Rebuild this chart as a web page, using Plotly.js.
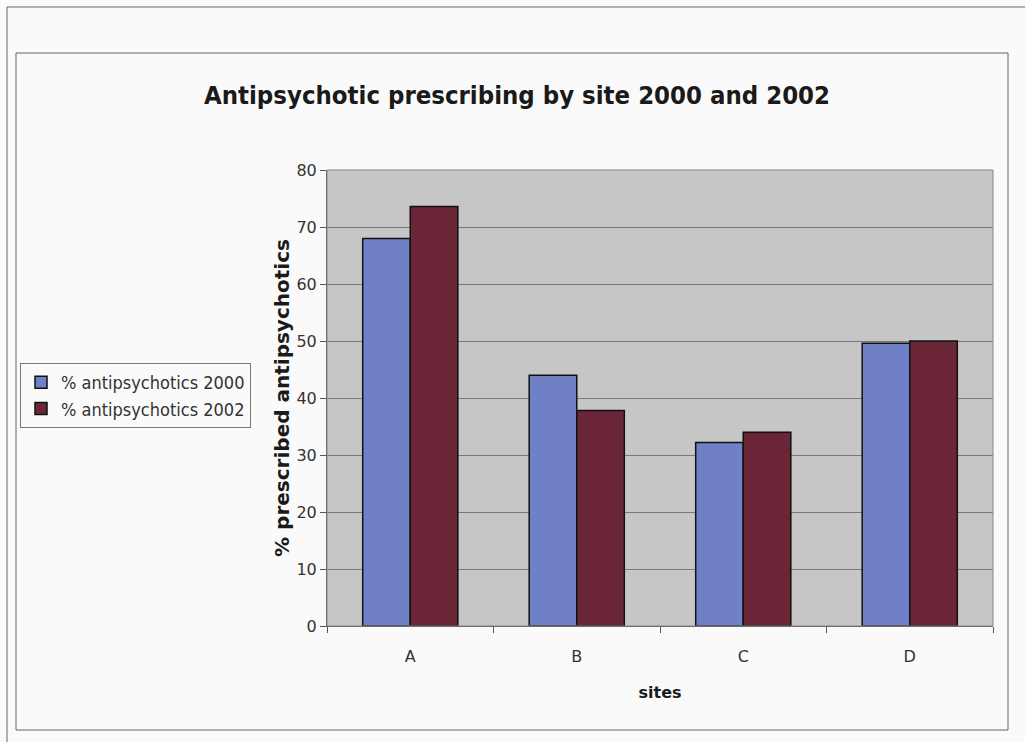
<!DOCTYPE html>
<html>
<head>
<meta charset="utf-8">
<script src="https://cdn.plot.ly/plotly-3.0.1.min.js"></script>
<style>
html,body{margin:0;padding:0;background:#fafafa;}
#chart{width:1025px;height:742px;}
</style>
</head>
<body>
<div id="chart"></div>
<script>
const sites = ["A", "B", "C", "D"];
const pct2000 = [68, 44, 32.2, 49.6];
const pct2002 = [73.6, 37.8, 34, 50];
const seriesNames = ["% antipsychotics 2000", "% antipsychotics 2002"];
const yTicks = [0, 10, 20, 30, 40, 50, 60, 70, 80];

const tickFont = {family: "DejaVu Sans, Verdana, sans-serif", size: 16, color: "#333"};

const traces = [
  {type: "bar", name: seriesNames[0], x: sites, y: pct2000,
   marker: {color: "#6f80c6", line: {color: "#111", width: 1.5}}},
  {type: "bar", name: seriesNames[1], x: sites, y: pct2002,
   marker: {color: "#6a2636", line: {color: "#111", width: 1.5}}}
];

const layout = {
  width: 1025, height: 742,
  paper_bgcolor: "#fafafa",
  plot_bgcolor: "#c6c6c6",
  margin: {l: 327, r: 32, t: 170, b: 116, pad: 0},
  barmode: "group",
  bargap: 0.4286,
  bargroupgap: 0,
  showlegend: true,
  font: {family: "DejaVu Sans, Verdana, sans-serif", color: "#222"},
  title: {
    text: "Antipsychotic prescribing by site 2000 and 2002",
    font: {family: "DejaVu Sans Condensed, DejaVu Sans, sans-serif", size: 25.5, color: "#1a1a1a", weight: "bold"},
    x: 517/1025, xref: "container", xanchor: "center",
    y: 1 - 95/742, yref: "container", yanchor: "middle"
  },
  xaxis: {
    type: "category",
    showgrid: false,
    ticks: "outside", ticklen: 6, tickcolor: "#555", tickson: "boundaries",
    ticklabelstandoff: 16,
    showline: true, linecolor: "#555", linewidth: 1,
    tickfont: tickFont,
    title: {text: "sites", font: {family: "DejaVu Sans, Verdana, sans-serif", size: 16, color: "#1a1a1a", weight: "bold"}, standoff: 21},
    fixedrange: true
  },
  yaxis: {
    range: [0, 80],
    tickvals: yTicks,
    ticks: "outside", ticklen: 6, tickcolor: "#555",
    showline: true, linecolor: "#555", linewidth: 1,
    showgrid: true, gridcolor: "#7a7a7a", gridwidth: 1,
    zeroline: false,
    tickfont: tickFont,
    title: {text: "% prescribed antipsychotics", font: {family: "DejaVu Sans, Verdana, sans-serif", size: 20, color: "#1a1a1a", weight: "bold"}, standoff: 1},
    fixedrange: true
  },
  legend: {
    x: 20/1025, xref: "container", xanchor: "left",
    y: 1 - 363/742, yref: "container", yanchor: "top",
    bgcolor: "#fafafa", bordercolor: "#777", borderwidth: 1,
    font: {family: "DejaVu Sans Condensed, DejaVu Sans, sans-serif", size: 18, color: "#333"},
    itemwidth: 30, tracegroupgap: 0,
    traceorder: "normal"
  },
  shapes: [
    {type: "rect", xref: "paper", yref: "paper", x0: 0, x1: 1, y0: 0, y1: 1,
     line: {color: "#888", width: 1}, fillcolor: "rgba(0,0,0,0)", layer: "above"},
    {type: "rect", xref: "paper", yref: "paper",
     x0: (16-327)/666, x1: (1008-327)/666, y0: -(730-626)/456, y1: 1 + (170-53)/456,
     line: {color: "#666", width: 1}, fillcolor: "rgba(0,0,0,0)"},
    {type: "line", xref: "paper", yref: "paper",
     x0: (7-327)/666, x1: 1.1, y0: 1 + (170-7)/456, y1: 1 + (170-7)/456,
     line: {color: "#666", width: 1}},
    {type: "line", xref: "paper", yref: "paper",
     x0: (7-327)/666, x1: (7-327)/666, y0: 1 + (170-7)/456, y1: -0.3,
     line: {color: "#666", width: 1}}
  ]
};

Plotly.newPlot("chart", traces, layout, {displayModeBar: false, staticPlot: true});
</script>
</body>
</html>
